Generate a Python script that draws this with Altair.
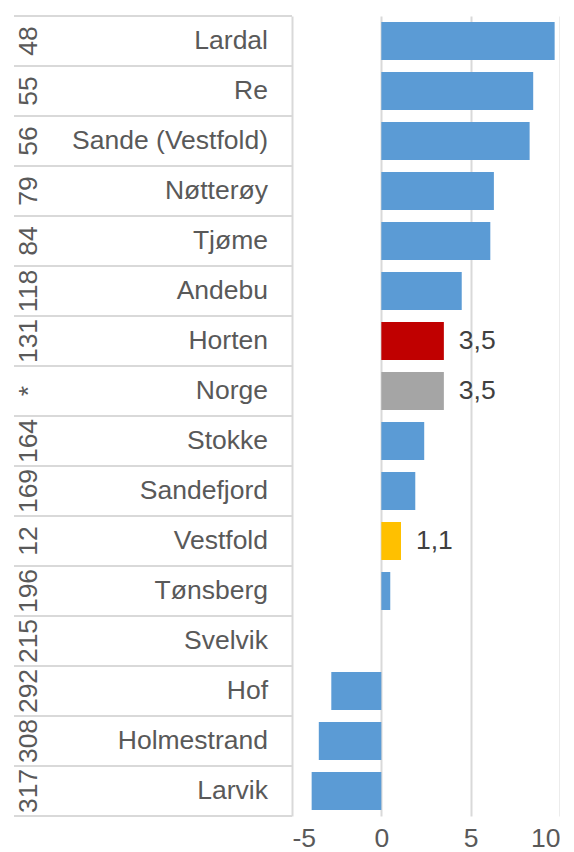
import altair as alt
import pandas as pd

names = ["Lardal", "Re", "Sande (Vestfold)", "Nøtterøy", "Tjøme", "Andebu", "Horten",
         "Norge", "Stokke", "Sandefjord", "Vestfold", "Tønsberg", "Svelvik", "Hof",
         "Holmestrand", "Larvik"]
ranks = ["48", "55", "56", "79", "84", "118", "131", "*", "164", "169", "12", "196",
         "215", "292", "308", "317"]
values = [9.7, 8.5, 8.3, 6.3, 6.1, 4.5, 3.5, 3.5, 2.4, 1.9, 1.1, 0.5, 0.0, -2.8, -3.5, -3.9]
colors = ["#5B9BD5"] * 6 + ["#C00000", "#A5A5A5"] + ["#5B9BD5"] * 2 + ["#FFC000"] + ["#5B9BD5"] * 5
labels = ["", "", "", "", "", "", "3,5", "3,5", "", "", "1,1", "", "", "", "", ""]
x_ticks = [-5, 0, 5, 10]

df = pd.DataFrame({"name": names, "rank": ranks, "value": values,
                   "color": colors, "label": labels})

FONT = "Liberation Sans"
FS = 26.5
GRID = "#D9D9D9"
TXT = "#595959"
H = 800
LW = 278
RW = 268

yband = alt.Y("name:N", sort=names, axis=None,
              scale=alt.Scale(paddingInner=0, paddingOuter=0))

base_left = alt.Chart(df)
row_lines = base_left.mark_rule(color=GRID, strokeWidth=2).encode(
    y=alt.Y("name:N", sort=names, axis=None, bandPosition=0,
            scale=alt.Scale(paddingInner=0, paddingOuter=0)),
    x=alt.value(0), x2=alt.value(LW))
bottom_line = alt.Chart(pd.DataFrame({"k": [0]})).mark_rule(color=GRID, strokeWidth=2).encode(
    y=alt.value(H), x=alt.value(0), x2=alt.value(LW))
name_text = base_left.mark_text(align="right", baseline="middle", font=FONT,
                                fontSize=FS, color=TXT).encode(
    y=yband, x=alt.value(254), text="name:N")
rank_text = base_left.mark_text(align="center", baseline="middle", angle=270, font=FONT,
                                fontSize=FS, color=TXT).encode(
    y=yband, x=alt.value(15), text="rank:N")

left = alt.layer(row_lines, bottom_line, name_text, rank_text).properties(width=LW, height=H)

ybar = alt.Y("name:N", sort=names, axis=None,
             scale=alt.Scale(paddingInner=0.24, paddingOuter=0.12))
xq = alt.X("value:Q", scale=alt.Scale(domain=[-5, 10], nice=False, zero=False),
           axis=alt.Axis(values=x_ticks, title=None, domain=False, ticks=False,
                         grid=True, gridColor=GRID, gridWidth=2,
                         labelExpr="replace(datum.label, '\u2212', '-')",
                         labelFont=FONT, labelFontSize=FS, labelColor=TXT,
                         labelPadding=9))
base_right = alt.Chart(df)
bars = base_right.mark_bar().encode(
    y=ybar, x=xq, x2=alt.datum(0), color=alt.Color("color:N", scale=None))
vlabels = base_right.mark_text(align="left", baseline="middle", dx=15, font=FONT,
                               fontSize=FS, color="#404040").encode(
    y=ybar, x="value:Q", text="label:N").transform_filter("datum.label != ''")

right = alt.layer(bars, vlabels).properties(width=RW, height=H)

chart = alt.hconcat(left, right, spacing=0, bounds="flush").properties(
    padding={"left": 5, "top": 7, "right": 0, "bottom": 0}
).configure_view(stroke=None)

chart.save("out.html", embed_options={"renderer": "svg", "actions": False})
